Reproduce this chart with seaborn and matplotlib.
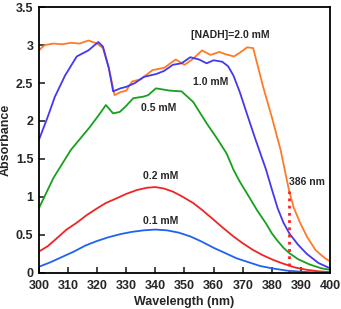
import pandas as pd
import seaborn as sns
import matplotlib.pyplot as plt

# spectra (wavelength nm, absorbance)
wl_20 = [300, 302, 305, 308, 311, 314, 317, 320, 322, 324, 326, 328, 330, 332, 335, 339, 343, 347, 350, 353, 356, 359, 362, 364, 367, 369, 371.5, 373.6, 375, 377, 380, 383, 385, 386, 387.5, 389.7, 392, 395, 398, 400]
ab_20 = [2.93, 3.0, 3.02, 3.01, 3.03, 3.02, 3.06, 3.02, 2.96, 2.7, 2.34, 2.38, 2.4, 2.52, 2.55, 2.67, 2.7, 2.81, 2.74, 2.82, 2.93, 2.87, 2.91, 2.88, 2.85, 2.9, 2.97, 2.96, 2.75, 2.45, 2.05, 1.62, 1.25, 1.07, 0.86, 0.66, 0.48, 0.3, 0.2, 0.15]

wl_10 = [300, 303, 305.5, 309, 313, 317, 320.4, 322, 324, 325.5, 328, 330, 333, 336, 340.4, 343, 346, 349, 352, 355, 357.6, 360, 363, 365, 366.8, 369, 371.4, 374, 376, 378, 380, 382, 384, 386, 389, 392, 396, 400]
ab_10 = [1.75, 2.05, 2.32, 2.6, 2.85, 2.93, 3.04, 2.98, 2.7, 2.39, 2.43, 2.45, 2.5, 2.58, 2.62, 2.66, 2.74, 2.76, 2.84, 2.81, 2.76, 2.8, 2.78, 2.72, 2.6, 2.38, 2.1, 1.8, 1.58, 1.36, 1.1, 0.85, 0.66, 0.52, 0.37, 0.25, 0.13, 0.06]

wl_05 = [300, 305, 311, 317.5, 321, 323, 325.5, 327.8, 330, 332.4, 335.8, 337.5, 340.2, 345, 349, 353, 357.6, 361, 364.5, 366.8, 369, 371.4, 375, 378, 380, 382, 384, 386, 389, 393, 397, 400]
ab_05 = [0.85, 1.25, 1.62, 1.92, 2.1, 2.21, 2.1, 2.12, 2.2, 2.3, 2.32, 2.34, 2.43, 2.4, 2.39, 2.25, 1.97, 1.78, 1.57, 1.36, 1.2, 1.05, 0.82, 0.65, 0.52, 0.42, 0.33, 0.26, 0.18, 0.11, 0.06, 0.04]

wl_02 = [300, 303, 306, 309.5, 313, 316.4, 320, 323, 326, 330, 333.6, 337, 340, 343, 346, 349, 353, 356, 360, 363, 366.8, 370, 373.6, 377, 380.5, 384, 388, 392, 396, 400]
ab_02 = [0.28, 0.35, 0.45, 0.57, 0.66, 0.76, 0.85, 0.92, 0.97, 1.04, 1.09, 1.12, 1.13, 1.11, 1.07, 1.01, 0.92, 0.83, 0.7, 0.6, 0.48, 0.39, 0.3, 0.23, 0.17, 0.12, 0.07, 0.04, 0.02, 0.01]

wl_01 = [300, 304, 308, 312, 316, 320, 324, 328, 332, 336, 340, 344, 348, 352, 356, 360, 364, 368, 372, 376, 380, 385, 390, 395, 400]
ab_01 = [0.08, 0.14, 0.21, 0.28, 0.36, 0.42, 0.47, 0.51, 0.54, 0.56, 0.57, 0.56, 0.53, 0.48, 0.41, 0.33, 0.26, 0.19, 0.14, 0.09, 0.06, 0.03, 0.015, 0.005, 0.0]

labels = ["[NADH]=2.0 mM", "1.0 mM", "0.5 mM", "0.2 mM", "0.1 mM"]
label_pos = [(365.6, 3.13), (359, 2.52), (341, 2.17), (342, 1.28), (342, 0.68)]
colors = ["#ff7a28", "#4438f0", "#17a01c", "#f02424", "#1f62f2"]
marker_nm = 386
marker_top = 1.08

sns.set_style("ticks")
plt.rcParams['font.family'] = ['Liberation Sans', 'DejaVu Sans']
plt.rcParams['font.weight'] = 'bold'

fig = plt.figure(figsize=(3.41, 3.09), dpi=100)
ax = fig.add_axes([0.114, 0.117, 0.854, 0.86])

series = [(wl_20, ab_20), (wl_10, ab_10), (wl_05, ab_05), (wl_02, ab_02), (wl_01, ab_01)]
for (x, y), c in zip(series, colors):
    df = pd.DataFrame({"wl": x, "abs": y})
    sns.lineplot(data=df, x="wl", y="abs", color=c, lw=1.3, ax=ax)

for t, (tx, ty) in zip(labels, label_pos):
    ax.text(tx, ty, t, ha="center", va="center", fontsize=7.5, fontweight="bold")

ax.plot([marker_nm, marker_nm], [0, marker_top], ls=(0, (1, 1.6)), color="#ff2020", lw=2)
ax.text(marker_nm, 1.2, "386 nm", ha="left", va="center", fontsize=7.5, fontweight="bold")

ax.set_xlim(300, 400)
ax.set_ylim(0, 3.5)
ax.set_xticks(range(300, 401, 10))
ax.set_yticks([0, 0.5, 1, 1.5, 2, 2.5, 3, 3.5])
ax.set_yticklabels(["0", "0.5", "1", "1.5", "2", "2.5", "3", "3.5"])
ax.tick_params(direction="in", length=4, width=1.2, labelsize=9)
ax.tick_params(axis="x", pad=5)
ax.tick_params(axis="y", pad=4)
for lab in ax.get_xticklabels() + ax.get_yticklabels():
    lab.set_fontweight("bold")
for s in ax.spines.values():
    s.set_linewidth(1.3)
    s.set_color("black")
ax.set_xlabel("Wavelength (nm)", fontsize=9, fontweight="bold", labelpad=3)
ax.set_ylabel("Absorbance", fontsize=9, fontweight="bold", labelpad=3)

fig.savefig("out.png", dpi=100)
